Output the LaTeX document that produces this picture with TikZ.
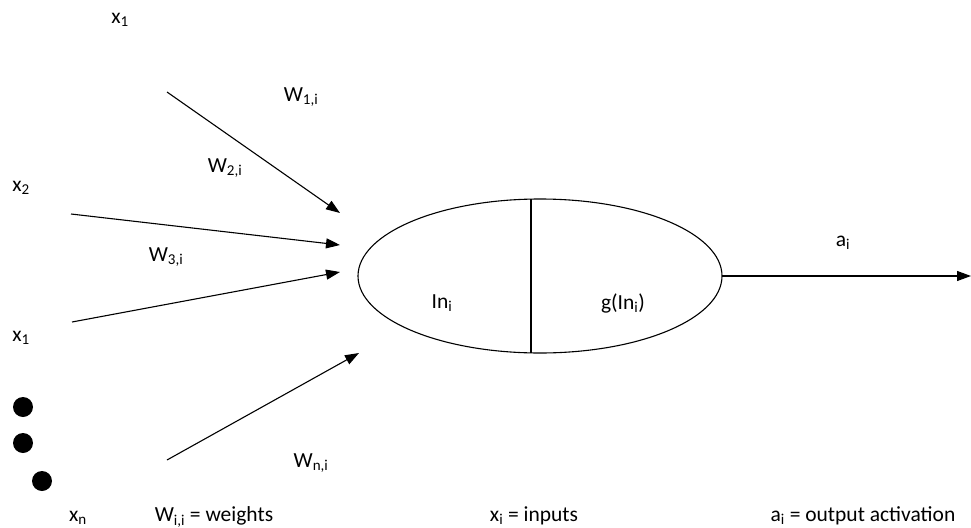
\documentclass[tikz,border=0pt]{standalone}
\usepackage{fontspec}
\setmainfont{Carlito}
\usetikzlibrary{arrows.meta}
\tikzset{
  lbl/.style={inner sep=0pt, font=\fontsize{21.5}{25}\selectfont},
  wire/.style={line width=1.1pt, -{Triangle[length=14pt,width=10pt]}},
  dotmark/.style={circle, fill=black, minimum size=20pt, inner sep=0pt}
}
\newcommand{\sbs}[1]{\textsubscript{#1}}
\begin{document}
\begin{tikzpicture}[x=1pt,y=-1pt]
\useasboundingbox (0,0) rectangle (971,527);
% neuron
\draw[line width=1.1pt] (540,276) ellipse [x radius=182, y radius=77];
\coordinate (dtop) at (531,199);
\coordinate (dbot) at (531,353);
\draw[line width=1.1pt] (dtop) -- (dbot);
\node[lbl] (in) at (442,303) {In\sbs{i}};
\node[lbl] (g) at (623,303) {g(In\sbs{i})};
% output
\coordinate (oS) at (722,276);
\coordinate (oE) at (971,276);
\draw[wire] (oS) -- (oE);
\node[lbl] (ai) at (843,243) {a\sbs{i}};
% inputs
\coordinate (s1) at (167,92);  \coordinate (e1) at (340,213);
\coordinate (s2) at (71,214);  \coordinate (e2) at (340,245);
\coordinate (s3) at (72,322);  \coordinate (e3) at (340,272);
\coordinate (s4) at (167,460); \coordinate (e4) at (359,353);
\draw[wire] (s1) -- (e1);
\draw[wire] (s2) -- (e2);
\draw[wire] (s3) -- (e3);
\draw[wire] (s4) -- (e4);
% labels
\node[lbl] (xa) at (120,20) {x\sbs{1}};
\node[lbl] (w1) at (301,97) {W\sbs{1,i}};
\node[lbl] (w2) at (225,168) {W\sbs{2,i}};
\node[lbl] (x2) at (21,188) {x\sbs{2}};
\node[lbl] (w3) at (166,257) {W\sbs{3,i}};
\node[lbl] (xb) at (21,338) {x\sbs{1}};
\node[lbl] (wn) at (311,463) {W\sbs{n,i}};
\node[lbl] (xn) at (78,518) {x\sbs{n}};
\node[lbl] (lw) at (214,517) {W\sbs{i,i} = weights};
\node[lbl] (lx) at (534,516) {x\sbs{i} = inputs};
\node[lbl] (la) at (863,516) {a\sbs{i} = output activation};
% dots
\node[dotmark] (d1) at (23,407) {};
\node[dotmark] (d2) at (23,443) {};
\node[dotmark] (d3) at (42,481) {};
\end{tikzpicture}
\end{document}
